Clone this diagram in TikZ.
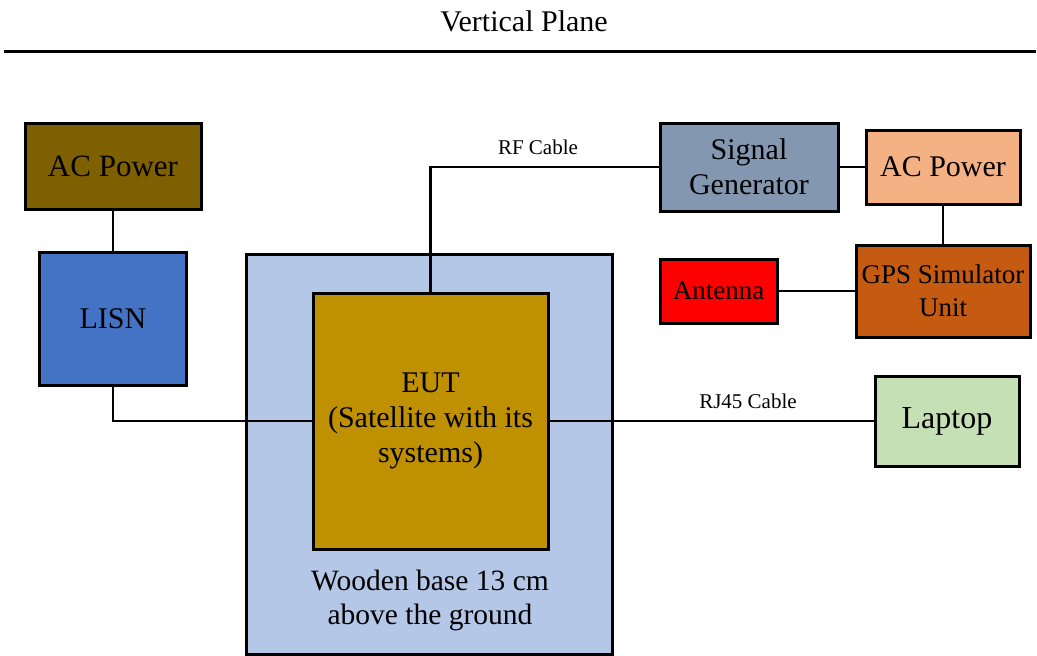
\documentclass[tikz,border=0pt]{standalone}
\usepackage{fontspec}
\setmainfont{Liberation Serif}

\definecolor{acbrown}{HTML}{7F6000}
\definecolor{lisnblue}{HTML}{4472C4}
\definecolor{woodblue}{HTML}{B4C7E7}
\definecolor{eutgold}{HTML}{BF9000}
\definecolor{siggrey}{HTML}{8497B0}
\definecolor{acpeach}{HTML}{F4B183}
\definecolor{gpsorange}{HTML}{C55A11}
\definecolor{laptopgreen}{HTML}{C5E0B4}

\tikzset{
  unit/.style={draw, line width=3pt, rectangle, inner sep=0pt, align=center,
    font=\fontsize{30}{35}\selectfont},
  cable/.style={line width=2.6pt},
  cablelabel/.style={inner sep=0pt, font=\fontsize{21}{25}\selectfont}
}

\begin{document}
\begin{tikzpicture}[x=1pt, y=-1pt, line cap=rect, line join=miter]

  %% ════ 标题与横线 ════
  \node[inner sep=0pt, font=\fontsize{30}{35}\selectfont] (title) at (524,21) {Vertical Plane};
  \coordinate (ruleL) at (5,51);
  \coordinate (ruleR) at (1034,51);
  \draw[line width=3pt] (ruleL) -- (ruleR);

  %% ════ 方框 ════
  \node[unit, fill=woodblue, minimum width=366pt, minimum height=400pt] (base) at (429,454) {};
  \node[unit, fill=eutgold, minimum width=235pt, minimum height=256pt] (eut) at (430.5,421)
    {EUT\\(Satellite with its\\systems)};
  \node[inner sep=0pt, align=center, font=\fontsize{29.5}{34}\selectfont] (baseText) at (430,600)
    {Wooden base 13 cm\\above the ground};

  \node[unit, fill=acbrown, minimum width=176pt, minimum height=86pt,
    font=\fontsize{31}{36}\selectfont] (acL) at (113,166) {AC Power};
  \node[unit, fill=lisnblue, minimum width=147pt, minimum height=133pt] (lisn) at (113,318.5) {LISN};

  \node[unit, fill=siggrey, minimum width=178pt, minimum height=88pt] (sig) at (749,167) {Signal\\Generator};
  \node[unit, fill=acpeach, minimum width=154pt, minimum height=74pt] (acR) at (943,167) {AC Power};
  \node[unit, fill=gpsorange, minimum width=174pt, minimum height=92pt,
    font=\fontsize{27}{33}\selectfont] (gps) at (943,291) {GPS Simulator\\Unit};
  \node[unit, fill=red, minimum width=117pt, minimum height=64pt,
    font=\fontsize{27}{33}\selectfont] (ant) at (718.5,291) {Antenna};
  \node[unit, fill=laptopgreen, minimum width=144pt, minimum height=90pt,
    font=\fontsize{32}{36}\selectfont] (laptop) at (947,421) {Laptop};

  %% ════ 连线 ════
  \draw[cable] (acL) -- (lisn);
  \draw[cable] (lisn.south) |- (eut.west);
  \draw[cable] (eut.north) |- (sig.west);
  \draw[cable] (sig.east) -- (acR.west);
  \draw[cable] (acR.south) -- (gps.north);
  \draw[cable] (ant.east) -- (gps.west);
  \draw[cable] (eut.east) -- (laptop.west);

  %% ════ 线缆标签 ════
  \node[cablelabel] (rfLabel) at (538,147) {RF Cable};
  \node[cablelabel] (rjLabel) at (748,401) {RJ45 Cable};

  % 钉死画布
  \pgfresetboundingbox
  \path[use as bounding box] (0,0) rectangle (1037,656);
\end{tikzpicture}
\end{document}
